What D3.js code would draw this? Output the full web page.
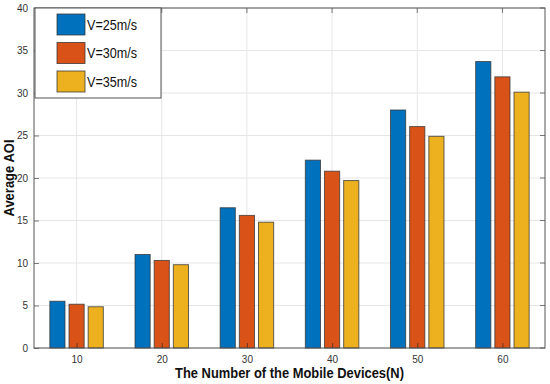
<!DOCTYPE html>
<html>
<head>
<meta charset="utf-8">
<script src="https://cdn.jsdelivr.net/npm/d3@7"></script>
<style>
  body { margin: 0; background: #fff; }
  svg { font-family: "Liberation Sans", Arial, sans-serif; }
</style>
</head>
<body>
<div id="chart"></div>
<script>
// Data
const categories = [10, 20, 30, 40, 50, 60];
const seriesNames = ['V=25m/s', 'V=30m/s', 'V=35m/s'];
const v25 = [5.5, 11.0, 16.5, 22.1, 28.0, 33.7];
const v30 = [5.15, 10.3, 15.6, 20.8, 26.05, 31.9];
const v35 = [4.85, 9.8, 14.8, 19.7, 24.9, 30.1];
const yTicks = [0, 5, 10, 15, 20, 25, 30, 35, 40];
const colors = ['#0072BD', '#D95319', '#EDB120'];

const series = [v25, v30, v35];

const width = 550, height = 384;
const margin = { left: 34, right: 5, top: 8, bottom: 36 };

const svg = d3.select('#chart').append('svg')
    .attr('width', width)
    .attr('height', height);

const x = d3.scaleLinear()
    .domain([5, 65])
    .range([margin.left, width - margin.right]);

const y = d3.scaleLinear()
    .domain([0, 40])
    .range([height - margin.bottom, margin.top]);

const x0 = margin.left, x1 = width - margin.right;
const y0 = height - margin.bottom, y1 = margin.top;

// Grid
const grid = svg.append('g').attr('class', 'grid');
grid.selectAll('line.gy')
    .data(yTicks)
    .join('line')
    .attr('x1', x0).attr('x2', x1)
    .attr('y1', d => y(d)).attr('y2', d => y(d))
    .attr('stroke', '#e6e6e6')
    .attr('stroke-width', 1);
grid.selectAll('line.gx')
    .data(categories)
    .join('line')
    .attr('x1', d => x(d)).attr('x2', d => x(d))
    .attr('y1', y0).attr('y2', y1)
    .attr('stroke', '#e6e6e6')
    .attr('stroke-width', 1);

// Bars
const offset = 2.25, barW = 1.78;
series.forEach((vals, si) => {
    svg.append('g')
        .selectAll('rect')
        .data(vals)
        .join('rect')
        .attr('x', (d, i) => x(categories[i] + (si - 1) * offset - barW / 2))
        .attr('width', x(barW) - x(0))
        .attr('y', d => y(d))
        .attr('height', d => y(0) - y(d))
        .attr('fill', colors[si])
        .attr('stroke', '#333')
        .attr('stroke-opacity', 0.75)
        .attr('stroke-width', 1);
});

// Axes
const axisColor = '#262626';
const xAxis = d3.axisBottom(x).tickValues(categories).tickSize(-5).tickPadding(8);
const yAxis = d3.axisLeft(y).tickValues(yTicks).tickSize(-5).tickPadding(6);

const gx = svg.append('g')
    .attr('transform', `translate(0,${y0})`)
    .call(xAxis);
const gy = svg.append('g')
    .attr('transform', `translate(${x0},0)`)
    .call(yAxis);

[gx, gy].forEach(g => {
    g.select('.domain').remove();
    g.selectAll('.tick line').attr('stroke', axisColor).attr('stroke-width', 0.6);
    g.selectAll('.tick text')
        .attr('fill', '#333')
        .attr('font-size', 10)
        .attr('font-family', '"Liberation Sans", Arial, sans-serif');
});

// Top/right ticks
svg.append('g').selectAll('line')
    .data(categories)
    .join('line')
    .attr('x1', d => x(d)).attr('x2', d => x(d))
    .attr('y1', y1).attr('y2', y1 + 5)
    .attr('stroke', axisColor).attr('stroke-width', 0.6);
svg.append('g').selectAll('line')
    .data(yTicks)
    .join('line')
    .attr('x1', x1).attr('x2', x1 - 5)
    .attr('y1', d => y(d)).attr('y2', d => y(d))
    .attr('stroke', axisColor).attr('stroke-width', 0.6);

// Box
svg.append('rect')
    .attr('x', x0).attr('y', y1)
    .attr('width', x1 - x0).attr('height', y0 - y1)
    .attr('fill', 'none')
    .attr('stroke', '#555')
    .attr('stroke-width', 1);

// Axis labels (figure text looks slightly condensed, so squeeze to fit)
svg.append('text')
    .attr('x', (x0 + x1) / 2)
    .attr('y', 378)
    .attr('text-anchor', 'middle')
    .attr('font-size', 14.5)
    .attr('font-weight', 'bold')
    .attr('fill', '#111')
    .attr('textLength', 229)
    .attr('lengthAdjust', 'spacingAndGlyphs')
    .text('The Number of the Mobile Devices(N)');

svg.append('text')
    .attr('transform', `translate(14,${(y0 + y1) / 2}) rotate(-90)`)
    .attr('text-anchor', 'middle')
    .attr('font-size', 14)
    .attr('font-weight', 'bold')
    .attr('fill', '#111')
    .attr('textLength', 77)
    .attr('lengthAdjust', 'spacingAndGlyphs')
    .text('Average AOI');

// Legend
const legend = svg.append('g').attr('transform', 'translate(35,8)');
legend.append('rect')
    .attr('x', 0).attr('y', 0)
    .attr('width', 126).attr('height', 90)
    .attr('fill', '#fff')
    .attr('stroke', '#555')
    .attr('stroke-width', 1);

const item = legend.selectAll('g.item')
    .data(seriesNames)
    .join('g')
    .attr('class', 'item')
    .attr('transform', (d, i) => `translate(22,${6 + i * 28.5})`);
item.append('rect')
    .attr('width', 28).attr('height', 21)
    .attr('fill', (d, i) => colors[i])
    .attr('stroke', '#333')
    .attr('stroke-opacity', 0.75);
item.append('text')
    .attr('x', 30).attr('y', 15.5)
    .attr('font-size', 14.5)
    .attr('fill', '#111')
    .attr('textLength', 50)
    .attr('lengthAdjust', 'spacingAndGlyphs')
    .text(d => d);
</script>
</body>
</html>
